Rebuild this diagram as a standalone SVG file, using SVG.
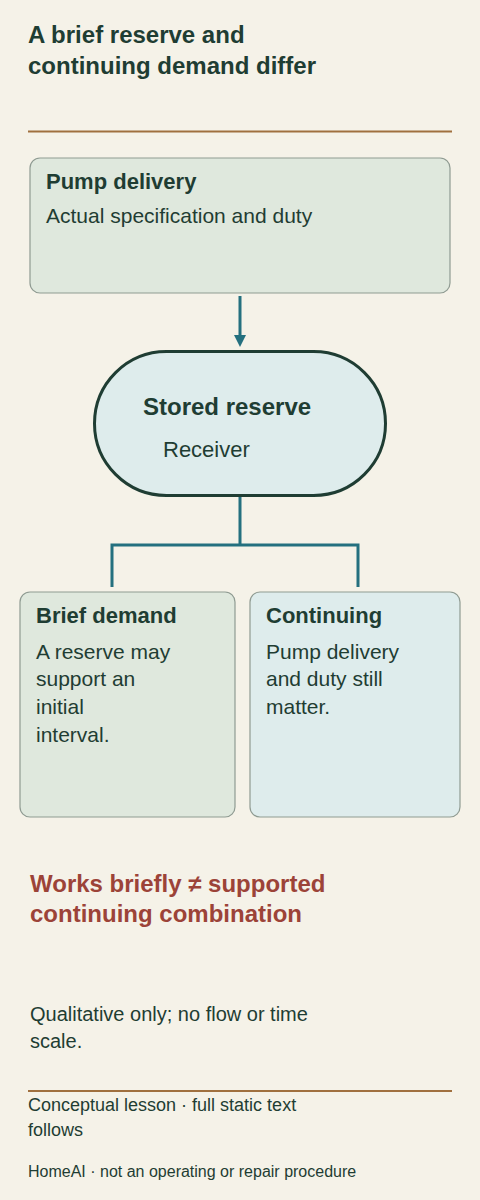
<svg xmlns="http://www.w3.org/2000/svg" width="480" height="1200" viewBox="0 0 480 1200">
<style>
text{font-family:"Liberation Sans",Arial,sans-serif;fill:#1f3d33}
.title{font-size:24px;font-weight:bold}
.h{font-size:22px;font-weight:bold}
.b{font-size:21px}
.rule{stroke:#a0703f;stroke-width:2}
.box{stroke:#8f9b92;stroke-width:1.2}
.green{fill:#dfe8dd}
.blue{fill:#deecec}
.conn{fill:none;stroke:#24707f;stroke-width:3}
.warn{font-size:24px;font-weight:bold;fill:#9c4338}
.note{font-size:20px}
.foot{font-size:18px}
.foot2{font-size:16px}
</style>
<defs>
<marker id="ah" markerWidth="12" markerHeight="12" refX="5" refY="5" orient="auto" markerUnits="userSpaceOnUse" viewBox="0 0 10 10">
<path d="M0,0 L10,5 L0,10 z" fill="#24707f"/>
</marker>
</defs>
<rect width="480" height="1200" fill="#f5f2e8"/>
<g id="title">
<text class="title" x="28" y="43">A brief reserve and</text>
<text class="title" x="28" y="73.5">continuing demand differ</text>
</g>
<line class="rule" x1="28" y1="131.5" x2="452" y2="131.5"/>
<g id="connectors">
<path class="conn" d="M240,296 V341" marker-end="url(#ah)"/>
<path class="conn" d="M240,497 V545 M112,587 V545 H358 V587"/>
</g>
<g id="pump">
<rect class="box green" x="30" y="158" width="420" height="135" rx="10"/>
<text class="h" x="46" y="189">Pump delivery</text>
<text class="b" x="46" y="223">Actual specification and duty</text>
</g>
<g id="reserve">
<rect x="94.5" y="351.5" width="291" height="144" rx="72" fill="#deecec" stroke="#1f3d33" stroke-width="3"/>
<text class="h" x="143" y="415" style="font-size:24px">Stored reserve</text>
<text class="b" x="163" y="457" style="font-size:22px">Receiver</text>
</g>
<g id="brief">
<rect class="box green" x="20" y="592" width="215" height="225" rx="10"/>
<text class="h" x="36" y="622.5">Brief demand</text>
<text class="b" x="36" y="658.5">A reserve may</text>
<text class="b" x="36" y="686">support an</text>
<text class="b" x="36" y="714">initial</text>
<text class="b" x="36" y="741.5">interval.</text>
</g>
<g id="continuing">
<rect class="box blue" x="250" y="592" width="210" height="225" rx="10"/>
<text class="h" x="266" y="622.5">Continuing</text>
<text class="b" x="266" y="658.5">Pump delivery</text>
<text class="b" x="266" y="686">and duty still</text>
<text class="b" x="266" y="714">matter.</text>
</g>
<g id="warning">
<text class="warn" x="30" y="891.5">Works briefly ≠ supported</text>
<text class="warn" x="30" y="921.5">continuing combination</text>
</g>
<g id="note">
<text class="note" x="30" y="1020.5">Qualitative only; no flow or time</text>
<text class="note" x="30" y="1047.5">scale.</text>
</g>
<line class="rule" x1="28" y1="1091" x2="452" y2="1091"/>
<g id="footer">
<text class="foot" x="28" y="1111">Conceptual lesson · full static text</text>
<text class="foot" x="28" y="1136">follows</text>
<text class="foot2" x="28" y="1176.5">HomeAI · not an operating or repair procedure</text>
</g>
</svg>
